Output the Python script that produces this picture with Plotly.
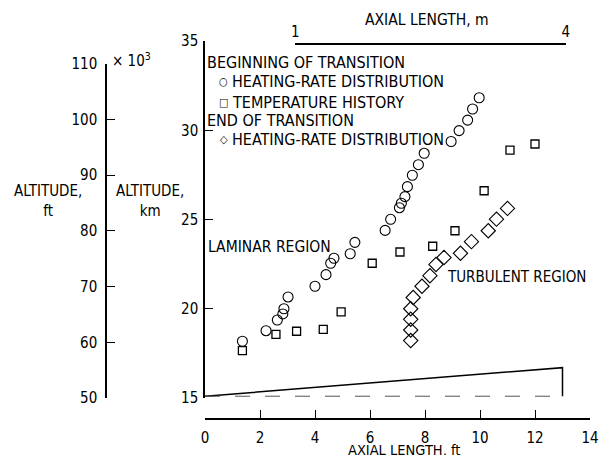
import plotly.graph_objects as go

# ---- data (axial length ft, altitude km) ----
heat_begin_x = [1.36, 2.22, 2.63, 2.83, 2.87, 3.02, 4.00, 4.40, 4.57, 4.69, 5.28, 5.45,
                6.55, 6.75, 7.07, 7.14, 7.27, 7.36, 7.54, 7.76, 7.97, 8.95, 9.24, 9.55, 9.73, 9.97]
heat_begin_y = [18.18, 18.77, 19.37, 19.71, 20.00, 20.66, 21.26, 21.91, 22.55, 22.83, 23.08, 23.72,
                24.39, 25.01, 25.66, 25.91, 26.28, 26.84, 27.48, 28.07, 28.71, 29.37, 29.98, 30.57, 31.19, 31.82]

temp_hist_x = [1.36, 2.58, 3.33, 4.30, 4.95, 6.08, 7.09, 8.28, 9.09, 10.15, 11.09, 12.00]
temp_hist_y = [17.65, 18.57, 18.74, 18.85, 19.83, 22.55, 23.18, 23.50, 24.37, 26.61, 28.89, 29.23]

heat_end_x = [7.48, 7.48, 7.48, 7.48, 7.57, 7.89, 8.18, 8.40, 8.69, 9.29, 9.69, 10.30, 10.60, 11.00]
heat_end_y = [18.22, 18.81, 19.41, 20.00, 20.63, 21.26, 21.85, 22.48, 22.87, 23.11, 23.76, 24.37, 25.02, 25.62]

# cone schematic (ft, km)
cone_x = [0, 13, 13]
cone_y = [15.1, 16.7, 15.1]
center_x = [0, 13]
center_y = [15.1, 15.1]

x_ticks = [0, 2, 4, 6, 8, 10, 12, 14]
km_ticks = [15, 20, 25, 30, 35]
ft_ticks = [50, 60, 70, 80, 90, 100, 110]
ft_tick_text = ["50", "60", "70", "80", "90", "100", "110"]
m_ticks = [1, 4]

FT_PER_M = 3.2808
X_RANGE = [0, 14]
KM_RANGE = [15, 35]
FT_RANGE = [50, 110]

FONT = "DejaVu Sans Condensed, Liberation Sans Narrow, Arial Narrow, sans-serif"

# ---- layout geometry (pixels) ----
W, H = 605, 455
L, R, T, B = 107, 15, 41, 37
pw, ph = W - L - R, H - T - B


def px_x(x):
    return (x - L) / pw


def px_y(y):
    return (H - B - y) / ph


x_dom0 = px_x(205)
y_dom0 = px_y(398)
EPS = 0.002


def ft_frac(ft):
    return x_dom0 + (ft - X_RANGE[0]) / (X_RANGE[1] - X_RANGE[0]) * (1 - x_dom0)


fig = go.Figure()

fig.add_trace(go.Scatter(x=heat_begin_x, y=heat_begin_y, mode="markers",
                         marker=dict(symbol="circle-open", size=10, color="black", line=dict(width=1.1)),
                         showlegend=False))
fig.add_trace(go.Scatter(x=temp_hist_x, y=temp_hist_y, mode="markers",
                         marker=dict(symbol="square-open", size=8, color="black", line=dict(width=1.3)),
                         showlegend=False))
fig.add_trace(go.Scatter(x=heat_end_x, y=heat_end_y, mode="markers",
                         marker=dict(symbol="diamond-open", size=11, color="black", line=dict(width=1.1)),
                         showlegend=False))
fig.add_trace(go.Scatter(x=cone_x, y=cone_y, mode="lines",
                         line=dict(color="black", width=1.5), showlegend=False, hoverinfo="skip"))
fig.add_trace(go.Scatter(x=center_x, y=center_y, mode="lines",
                         line=dict(color="#555", width=1, dash="longdash"), showlegend=False, hoverinfo="skip"))
# empty traces so helper subplots exist
for xa, ya in [("x3", "y3"), ("x4", "y2"), ("x2", "y4")]:
    fig.add_trace(go.Scatter(x=[], y=[], xaxis=xa, yaxis=ya, showlegend=False, hoverinfo="skip"))

axis_common = dict(showgrid=False, zeroline=False, showline=True, linecolor="black", linewidth=1.5,
                   ticks="inside", ticklen=8, tickwidth=1.3, tickcolor="black", automargin=False,
                   tickfont=dict(family=FONT, size=15, color="black"))
hidden = dict(showgrid=False, zeroline=False, showline=False, showticklabels=False, ticks="",
              automargin=False)

fig.update_layout(
    width=W, height=H,
    margin=dict(l=L, r=R, t=T, b=B, autoexpand=False),
    paper_bgcolor="white", plot_bgcolor="white",
    font=dict(family=FONT, size=15, color="black"),
    # main data axes
    xaxis=dict(domain=[x_dom0, 1], range=X_RANGE, anchor="y", **hidden),
    yaxis=dict(domain=[y_dom0, 1], range=KM_RANGE, anchor="x", tickvals=km_ticks,
               ticklabelstandoff=2, **axis_common),
    # detached bottom axis (ft)
    xaxis3=dict(domain=[x_dom0, 1], range=X_RANGE, anchor="y3", tickvals=x_ticks,
                ticklabelstandoff=5, **axis_common),
    yaxis3=dict(domain=[0, EPS], range=[0, 1], anchor="x3", **hidden),
    # altitude ft axis
    yaxis2=dict(domain=[y_dom0, px_y(63.5)], range=FT_RANGE, anchor="x4",
                tickvals=ft_ticks, ticktext=ft_tick_text, ticklabelstandoff=5, **axis_common),
    xaxis4=dict(domain=[0, EPS], range=[0, 1], anchor="y2", **hidden),
    # axial length m axis (bracket)
    xaxis2=dict(domain=[ft_frac(1 * FT_PER_M), ft_frac(4 * FT_PER_M)], range=[1, 4],
                anchor="y4", side="top", tickvals=m_ticks, **axis_common),
    yaxis4=dict(domain=[px_y(45) - EPS, px_y(45)], range=[0, 1], anchor="x2", **hidden),
)

ann = []


def add_text(text, x, y, xanchor="left", size=15.5):
    ann.append(dict(text=text, x=px_x(x), y=px_y(y), xref="paper", yref="paper",
                    xanchor=xanchor, yanchor="middle", showarrow=False, borderpad=0,
                    font=dict(family=FONT, size=size, color="black")))


add_text("AXIAL LENGTH, m", 427, 20, "center")
add_text("AXIAL LENGTH, ft", 404, 450, "center", 14.5)
add_text("ALTITUDE,<br>ft", 48, 201, "center", 15)
add_text("ALTITUDE,<br>km", 150, 201, "center", 15)
add_text("× 10<sup>3</sup>", 111, 60, "left", 15)
add_text("BEGINNING OF TRANSITION", 206, 63, "left", 16)
add_text("○", 223, 82, "center", 11)
add_text("HEATING-RATE DISTRIBUTION", 231, 82, "left", 16)
add_text("□", 223, 102, "center", 11)
add_text("TEMPERATURE HISTORY", 231, 102, "left", 16)
add_text("END OF TRANSITION", 206, 120, "left", 16)
add_text("◇", 224, 139, "center", 11)
add_text("HEATING-RATE DISTRIBUTION", 231, 139, "left", 16)
add_text("LAMINAR REGION", 207, 247)
add_text("TURBULENT REGION", 446, 277, "left", 15)

fig.update_layout(annotations=ann)

fig.write_html("out.html", config={"displayModeBar": False},
               post_script="document.body.style.margin='0px';")
